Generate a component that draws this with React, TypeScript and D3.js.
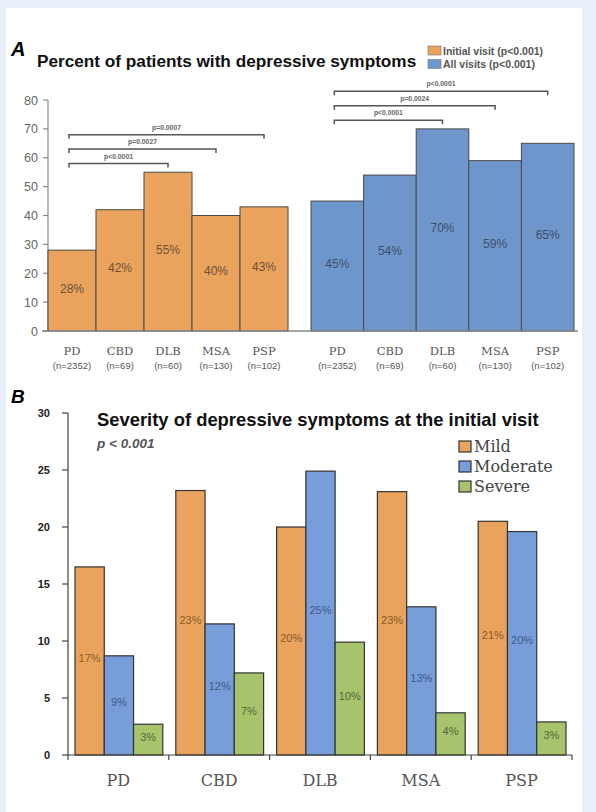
import React from 'react';
import * as d3 from 'd3';

const categories = ['PD', 'CBD', 'DLB', 'MSA', 'PSP'];
const sampleSizes = ['(n=2352)', '(n=69)', '(n=60)', '(n=130)', '(n=102)'];

// panel A: percent with depressive symptoms
const initialVisit = [28, 42, 55, 40, 43];
const allVisits = [45, 54, 70, 59, 65];
const ticksA = [0, 10, 20, 30, 40, 50, 60, 70, 80];
const initialBrackets = [
  { to: 'DLB', level: 58, label: 'p<0.0001' },
  { to: 'MSA', level: 63, label: 'p=0.0027' },
  { to: 'PSP', level: 68, label: 'p=0.0007' },
];
const allBrackets = [
  { to: 'DLB', level: 73, label: 'p<0.0001' },
  { to: 'MSA', level: 78, label: 'p=0.0024' },
  { to: 'PSP', level: 83, label: 'p<0.0001' },
];

// panel B: severity at initial visit
const severities = ['Mild', 'Moderate', 'Severe'];
const mild = [16.5, 23.2, 20.0, 23.1, 20.5];
const moderate = [8.7, 11.5, 24.9, 13.0, 19.6];
const severe = [2.7, 7.2, 9.9, 3.7, 2.9];
const mildLabels = ['17%', '23%', '20%', '23%', '21%'];
const moderateLabels = ['9%', '12%', '25%', '13%', '20%'];
const severeLabels = ['3%', '7%', '10%', '4%', '3%'];
const ticksB = [0, 5, 10, 15, 20, 25, 30];

const ORANGE = '#E9A35D';
const BLUE_A = '#6F96CB';
const BLUE_B = '#779EDA';
const GREEN = '#A7C46C';
const SANS = 'Arial, "Liberation Sans", sans-serif';
const SERIF = '"DejaVu Serif", serif';

function PanelA() {
  const y = d3.scaleLinear().domain([0, 80]).range([331, 100]);
  const xInit = d3.scaleBand().domain(categories).range([48, 288]);
  const xAll = d3.scaleBand().domain(categories).range([311, 574]);

  const groups = [
    { x: xInit, values: initialVisit, fill: ORANGE, brackets: initialBrackets, txt: '#6e5238' },
    { x: xAll, values: allVisits, fill: BLUE_A, brackets: allBrackets, txt: '#3d4f6e' },
  ];

  return (
    <g>
      <text x={11} y={56} fontFamily={SANS} fontWeight="bold" fontStyle="italic" fontSize={20}>A</text>
      <text x={37} y={67} fontFamily={SANS} fontWeight="bold" fontSize={17.2} fill="#111">
        Percent of patients with depressive symptoms
      </text>
      {/* legend */}
      <rect x={428} y={46} width={13} height={9} fill={ORANGE} stroke="#777" strokeWidth={0.6} />
      <text x={443} y={54.5} fontFamily={SANS} fontWeight="bold" fontSize={10.5} fill="#555">Initial visit (p&lt;0.001)</text>
      <rect x={428} y={59.5} width={13} height={9} fill={BLUE_A} stroke="#777" strokeWidth={0.6} />
      <text x={443} y={68} fontFamily={SANS} fontWeight="bold" fontSize={10.5} fill="#555">All visits (p&lt;0.001)</text>

      {/* y axis */}
      <line x1={48} x2={48} y1={y(80)} y2={y(0)} stroke="#888" strokeWidth={1.2} />
      {ticksA.map(t => (
        <g key={t}>
          <line x1={43} x2={48} y1={y(t)} y2={y(t)} stroke="#888" strokeWidth={1.2} />
          <text x={38} y={y(t) + 4.5} textAnchor="end" fontFamily={SANS} fontSize={12.5} fill="#666">{t}</text>
        </g>
      ))}

      {groups.map((g, gi) => (
        <g key={gi}>
          {g.values.map((v, i) => {
            const c = categories[i];
            const x0 = g.x(c)!;
            const w = g.x.bandwidth();
            return (
              <g key={c}>
                <rect x={x0} y={y(v)} width={w} height={y(0) - y(v)} fill={g.fill} stroke="#4a4a4a" strokeWidth={1} />
                <text x={x0 + w / 2} y={y(v / 2) + 2} textAnchor="middle" fontFamily={SANS} fontSize={12} fill={g.txt}>
                  {v}%
                </text>
                <text x={x0 + w / 2} y={355} textAnchor="middle" fontFamily={SERIF} fontSize={11.5} fill="#555">{c}</text>
                <text x={x0 + w / 2} y={369} textAnchor="middle" fontFamily={SANS} fontSize={9.5} fill="#555">{sampleSizes[i]}</text>
              </g>
            );
          })}
          {g.brackets.map(b => {
            const x1 = g.x('PD')! + g.x.bandwidth() / 2 - 3;
            const x2 = g.x(b.to)! + g.x.bandwidth() / 2;
            const yy = y(b.level);
            return (
              <g key={b.to}>
                <path d={`M${x1},${yy + 4}V${yy}H${x2}V${yy + 4}`} fill="none" stroke="#555" strokeWidth={1.5} />
                <text x={(x1 + x2) / 2} y={yy - 5} textAnchor="middle" fontFamily={SANS} fontWeight="bold" fontSize={6.8} fill="#666">
                  {b.label}
                </text>
              </g>
            );
          })}
        </g>
      ))}

      <line x1={42} x2={578} y1={y(0)} y2={y(0)} stroke="#888" strokeWidth={1.5} />
    </g>
  );
}

function PanelB() {
  const y = d3.scaleLinear().domain([0, 30]).range([755, 413]);
  const x = d3.scaleBand().domain(categories).range([68, 572]);
  const inner = d3.scaleBand().domain(severities).range([7, x.bandwidth() - 6]);
  const series = [
    { name: 'Mild', values: mild, labels: mildLabels, fill: ORANGE, txt: '#8a5a2c' },
    { name: 'Moderate', values: moderate, labels: moderateLabels, fill: BLUE_B, txt: '#3f5a88' },
    { name: 'Severe', values: severe, labels: severeLabels, fill: GREEN, txt: '#56663a' },
  ];
  const bounds = [...categories.map(c => x(c)!), 572];

  return (
    <g>
      <text x={11} y={403} fontFamily={SANS} fontWeight="bold" fontStyle="italic" fontSize={19}>B</text>
      <text x={97} y={426} fontFamily={SANS} fontWeight="bold" fontSize={18.4} fill="#111">
        Severity of depressive symptoms at the initial visit
      </text>
      <text x={97} y={448} fontFamily={SANS} fontWeight="bold" fontStyle="italic" fontSize={13.5} fill="#555">p &lt; 0.001</text>

      {/* legend */}
      {series.map((s, i) => (
        <g key={s.name}>
          <rect x={459} y={441 + i * 20} width={12} height={11} fill={s.fill} stroke="#333" strokeWidth={1.2} />
          <text x={474} y={452 + i * 20} fontFamily={SERIF} fontSize={16} fill="#444">{s.name}</text>
        </g>
      ))}

      {/* y axis */}
      <line x1={68} x2={68} y1={y(30)} y2={y(0)} stroke="#444" strokeWidth={1.2} />
      {ticksB.map(t => (
        <g key={t}>
          <line x1={62} x2={68} y1={y(t)} y2={y(t)} stroke="#444" strokeWidth={1.2} />
          <text x={50} y={y(t) + 4} textAnchor="end" fontFamily={SANS} fontWeight="bold" fontSize={11} fill="#222">{t}</text>
        </g>
      ))}

      {series.map(s => (
        <g key={s.name}>
          {s.values.map((v, i) => {
            const x0 = x(categories[i])! + inner(s.name)!;
            const w = inner.bandwidth();
            return (
              <g key={i}>
                <rect x={x0} y={y(v)} width={w} height={y(0) - y(v)} fill={s.fill} stroke="#333" strokeWidth={1.2} />
                <text x={x0 + w / 2} y={y(v / 2) + 1} textAnchor="middle" fontFamily={SANS} fontSize={11} fill={s.txt}>
                  {s.labels[i]}
                </text>
              </g>
            );
          })}
        </g>
      ))}

      <line x1={68} x2={572} y1={y(0)} y2={y(0)} stroke="#444" strokeWidth={1.2} />
      {bounds.map((b, i) => (
        <line key={i} x1={b} x2={b} y1={y(0)} y2={y(0) + 5} stroke="#444" strokeWidth={1.2} />
      ))}
      {categories.map(c => (
        <text key={c} x={x(c)! + x.bandwidth() / 2} y={786} textAnchor="middle" fontFamily={SERIF} fontSize={16} fill="#555">
          {c}
        </text>
      ))}
    </g>
  );
}

export default function App() {
  return (
    <div style={{ position: 'fixed', left: 0, top: 0, width: 596, height: 812, overflow: 'hidden' }}>
      <svg width={596} height={812} style={{ display: 'block' }}>
        <rect x={0} y={0} width={596} height={812} fill="#E7F0FA" />
        <rect x={6} y={8} width={576} height={804} fill="#fff" />
        <PanelA />
        <PanelB />
      </svg>
    </div>
  );
}
